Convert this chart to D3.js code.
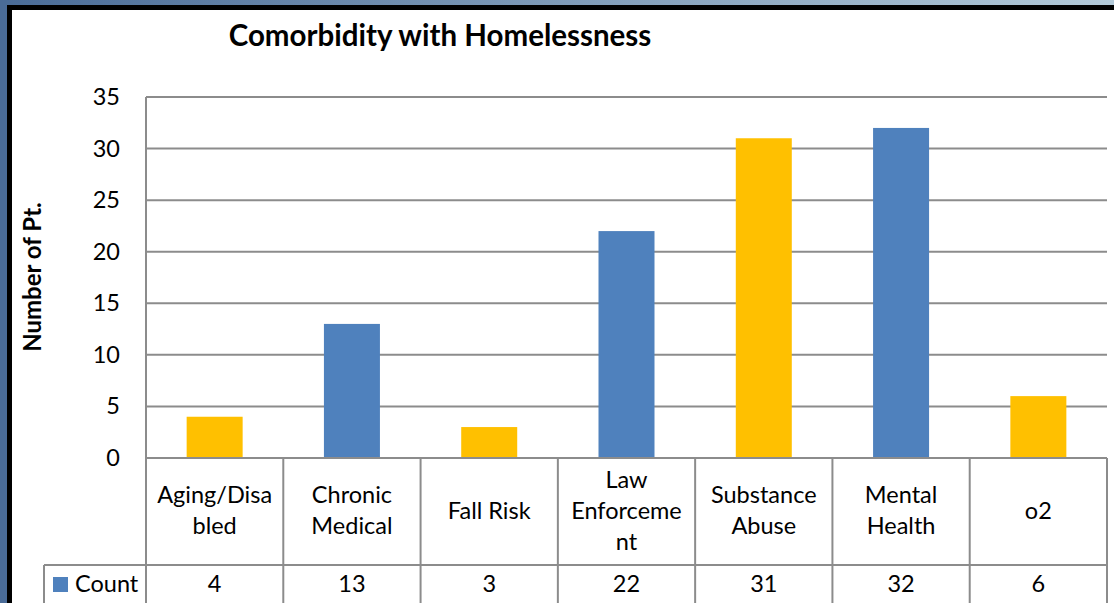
<!DOCTYPE html>
<html><head><meta charset="utf-8">
<script src="https://cdn.jsdelivr.net/npm/d3@7"></script>
<style>
html,body{margin:0;padding:0;background:#fff;}
svg{display:block;}
text{font-family:Lato,"Open Sans",sans-serif;fill:#000;}
</style></head>
<body>
<svg id="chart" width="1114" height="603"></svg>
<script>
const categories = ["Aging/Disabled","Chronic Medical","Fall Risk","Law Enforcement","Substance Abuse","Mental Health","o2"];
const categoryLines = [["Aging/Disa","bled"],["Chronic","Medical"],["Fall Risk"],["Law","Enforceme","nt"],["Substance","Abuse"],["Mental","Health"],["o2"]];
const counts = [4,13,3,22,31,32,6];
const barColors = ["#FFC000","#4F81BD","#FFC000","#4F81BD","#FFC000","#4F81BD","#FFC000"];
const yTicks = [0,5,10,15,20,25,30,35];
const seriesName = "Count";
const title = "Comorbidity with Homelessness";
const yTitle = "Number of Pt.";

(function(){
const svg = d3.select("#chart");
const W = 1114, H = 603;
const pL = 146, pR = 1107, pT = 97, pB = 458;
const catRowBottom = 565;
const gridColor = "#8c8c8c";
const fs = "23.5px";

const defs = svg.append("defs");
const grad = defs.append("linearGradient").attr("id","fr").attr("x1","0").attr("x2","1").attr("y1","0").attr("y2","0");
grad.append("stop").attr("offset","0").attr("stop-color","#4a6c98");
grad.append("stop").attr("offset","1").attr("stop-color","#b3cad9");
svg.append("rect").attr("x",0).attr("y",0).attr("width",W).attr("height",H).attr("fill","url(#fr)");
svg.append("rect").attr("x",0).attr("y",0).attr("width",7).attr("height",H).attr("fill","#4a6c98");
svg.append("rect").attr("x",7).attr("y",5).attr("width",W-7).attr("height",H-5).attr("fill","#000");
svg.append("rect").attr("x",12).attr("y",10).attr("width",W-12).attr("height",H-10).attr("fill","#fff");

const x = d3.scaleBand().domain(categories).range([pL,pR]).paddingInner(0).paddingOuter(0);
const y = d3.scaleLinear().domain([0,35]).range([pB,pT]);

svg.append("text").attr("x",440).attr("y",46).attr("text-anchor","middle")
  .style("font-weight","bold").style("font-size","29.5px").text(title);

svg.append("text").attr("transform","translate(41,277) rotate(-90)").attr("text-anchor","middle")
  .style("font-weight","bold").style("font-size","24px").text(yTitle);

svg.append("g").selectAll("line").data(yTicks).join("line")
  .attr("x1",pL).attr("x2",pR).attr("y1",d=>y(d)).attr("y2",d=>y(d))
  .attr("stroke",gridColor).attr("stroke-width",2);

const yAxis = d3.axisLeft(y).tickValues(yTicks).tickSize(0).tickPadding(26);
const ga = svg.append("g").attr("transform",`translate(${pL},0)`).call(yAxis);
ga.select(".domain").remove();
ga.selectAll("text").style("font-size",fs).style("font-family","Lato,'Open Sans',sans-serif").attr("fill","#000");

const bw = 56;
svg.append("g").selectAll("rect").data(counts).join("rect")
  .attr("x",(d,i)=>x(categories[i])+x.bandwidth()/2-bw/2)
  .attr("width",bw)
  .attr("y",d=>y(d)).attr("height",d=>y(0)-y(d))
  .attr("fill",(d,i)=>barColors[i]);

svg.append("line").attr("x1",pL).attr("x2",pL).attr("y1",pT).attr("y2",H)
  .attr("stroke",gridColor).attr("stroke-width",2);
svg.append("line").attr("x1",pL).attr("x2",pR).attr("y1",pB).attr("y2",pB)
  .attr("stroke",gridColor).attr("stroke-width",2);

const bounds = categories.map(c=>x(c)+x.bandwidth());
svg.append("g").selectAll("line").data(bounds).join("line")
  .attr("x1",d=>d).attr("x2",d=>d).attr("y1",pB).attr("y2",H)
  .attr("stroke",gridColor).attr("stroke-width",2);
svg.append("line").attr("x1",44).attr("x2",pR).attr("y1",catRowBottom).attr("y2",catRowBottom)
  .attr("stroke",gridColor).attr("stroke-width",2);
svg.append("line").attr("x1",44).attr("x2",44).attr("y1",catRowBottom).attr("y2",H)
  .attr("stroke",gridColor).attr("stroke-width",2);

const lh = 31;
const rowMid = (pB+catRowBottom)/2;
categories.forEach((c,i)=>{
  const lines = categoryLines[i];
  const cx = x(c)+x.bandwidth()/2;
  const firstBase = rowMid + 7 - (lines.length-1)*lh/2;
  const t = svg.append("text").attr("text-anchor","middle").style("font-size",fs);
  lines.forEach((l,j)=>{
    t.append("tspan").attr("x",cx).attr("y",firstBase+j*lh).text(l);
  });
});

svg.append("g").selectAll("text").data(counts).join("text")
  .attr("x",(d,i)=>x(categories[i])+x.bandwidth()/2).attr("y",592)
  .attr("text-anchor","middle").style("font-size",fs).text(d=>d);

svg.append("rect").attr("x",53).attr("y",577).attr("width",15).attr("height",15).attr("fill","#4F81BD");
svg.append("text").attr("x",75).attr("y",592).style("font-size",fs).text(seriesName);
})();
</script>
</body></html>
